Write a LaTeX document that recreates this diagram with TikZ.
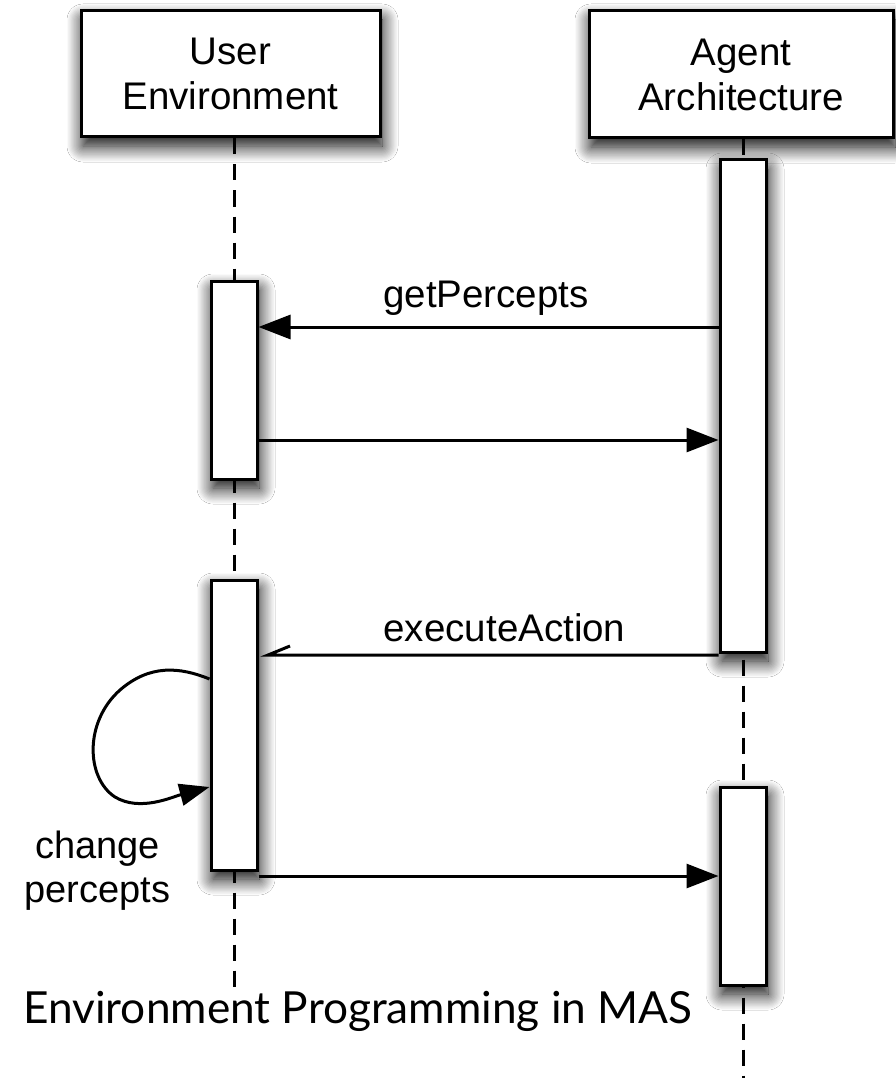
\documentclass[tikz,border=0pt]{standalone}
\usepackage{fontspec}
\setmainfont{Liberation Sans}
\newfontfamily\captionfont{Lato}
\usetikzlibrary{arrows.meta,shadows.blur}

\tikzset{
  softshadow/.style={blur shadow={shadow xshift=2pt, shadow yshift=-9pt,
    shadow blur radius=16pt, shadow blur steps=14, shadow opacity=100}},
  lane/.style={draw=black, line width=3pt, fill=white, inner sep=0pt,
    align=center, font=\fontsize{38.5}{45}\selectfont, softshadow},
  actbox/.style={draw=black, line width=3pt, fill=white, inner sep=0pt,
    minimum width=46pt, softshadow},
  lifeline/.style={line width=3pt, dash pattern=on 16pt off 10pt},
  msg/.style={line width=3pt, -{Triangle[length=32pt, width=24pt]}},
  msglabel/.style={font=\fontsize{38.5}{45}\selectfont, anchor=base, inner sep=0pt},
}

\begin{document}
\begin{tikzpicture}[x=1pt, y=-1pt]
  \useasboundingbox (0,0) rectangle (896,1078);
  \fill[white] (0,0) rectangle (896,1078);

  % coordinates of the two lifelines
  \coordinate (uline) at (234,0);
  \coordinate (aline) at (743,0);
  \coordinate (uend) at (234,988);
  \coordinate (aend) at (743,1078);

  % lifeline headers
  \node[lane, minimum width=299pt, minimum height=126pt] (ue) at (230.5,74) {User\\Environment};
  \node[lane, minimum width=304pt, minimum height=127pt] (aa) at (741,74.5) {Agent\\Architecture};

  % dashed lifelines (behind the activation bars)
  \draw[lifeline] (uline |- ue.south) -- (uend);
  \draw[lifeline] (aline |- aa.south) -- (aend);

  % activation bars
  \node[actbox, minimum height=198pt] (ua1) at (234,380) {};
  \node[actbox, minimum height=290pt] (ua2) at (234,725) {};
  \node[actbox, minimum height=492pt] (aa1) at (743,406) {};
  \node[actbox, minimum height=198pt] (aa2) at (743,886) {};

  % messages
  \draw[msg] (aa1.west |- 0,327) -- (ua1.east |- 0,327);
  \node[msglabel] (lgp) at (486,307) {getPercepts};

  \draw[msg] (ua1.east |- 0,440) -- (aa1.west |- 0,440);

  \coordinate (eatip) at (268,655);
  \draw[line width=3pt] (aa1.west |- 0,655) -- (eatip) -- ++(22,-9);
  \node[msglabel] (lea) at (504.5,641) {executeAction};

  % self call on the user environment
  \draw[line width=3pt, -{Triangle[length=30pt, width=22pt]}]
    (ua2.west |- 0,679) .. controls (180,667) and (150,664) .. (120,690)
    .. controls (84,722) and (86,778) .. (115,797)
    .. controls (140,812) and (172,797) .. (ua2.west |- 0,787);
  \node[font=\fontsize{38}{44}\selectfont, align=center, anchor=base, inner sep=0pt] (lcp)
    at (97.5,902) {change\\percepts};

  \draw[msg] (ua2.east |- 0,876) -- (aa2.west |- 0,876);

  % caption
  \node[font=\captionfont\fontsize{44.2}{52}\selectfont, anchor=base west, inner sep=0pt] (cap)
    at (23,1023) {Environment Programming in MAS};
\end{tikzpicture}
\end{document}
